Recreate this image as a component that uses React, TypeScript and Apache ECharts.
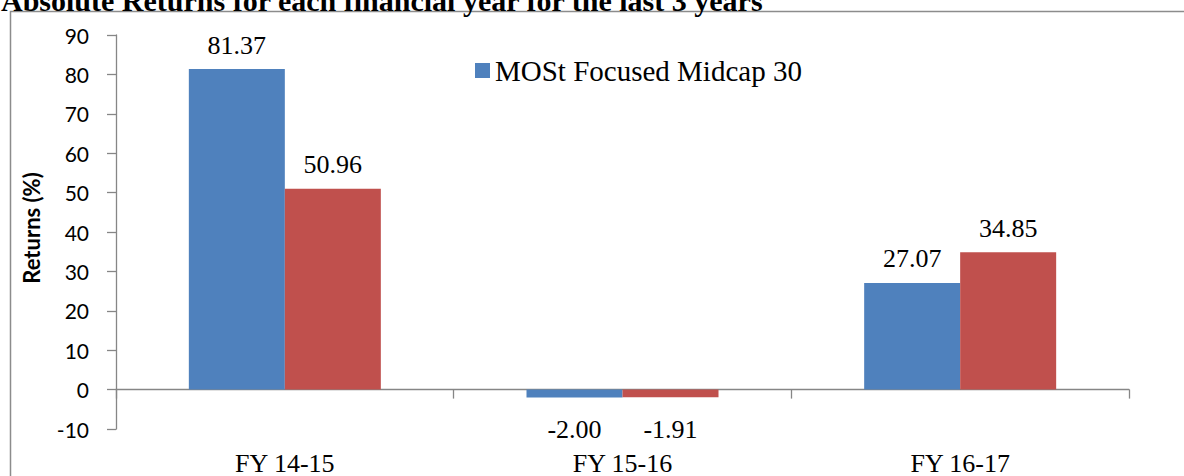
import React, { useEffect, useRef } from "react";
import * as echarts from "echarts";

const categories = ["FY 14-15", "FY 15-16", "FY 16-17"];
const fundName = "MOSt Focused Midcap 30";
const benchName = "Benchmark";
const fundValues = [81.37, -2.0, 27.07];
const benchValues = [50.96, -1.91, 34.85];
const yMin = -10;
const yMax = 90;
const yInterval = 10;
const titleText = "Absolute Returns for each financial year for the last 3 years";
const yAxisTitle = "Returns (%)";

const SERIF = "'Liberation Serif', 'Times New Roman', serif";
const SANS = "Lato, Carlito, Calibri, sans-serif";
const AXIS = "#868686";

function toData(values: number[]) {
  return values.map((v) =>
    v < 0
      ? { value: v, label: { position: "bottom", distance: 19 } }
      : { value: v }
  );
}

export default function App() {
  const ref = useRef<HTMLDivElement>(null);
  useEffect(() => {
    if (!ref.current) return;
    const chart = echarts.init(ref.current, undefined, { renderer: "svg" });
    const labelStyle = {
      show: true,
      position: "top",
      distance: 11,
      fontFamily: SERIF,
      fontSize: 26,
      color: "#000",
      formatter: (p: any) => Number(p.value).toFixed(2),
    };
    chart.setOption({
      animation: false,
      backgroundColor: "#fff",
      grid: {
        left: 116,
        right: 55,
        top: 35,
        bottom: 47,
        containLabel: false,
        outerBoundsMode: "none",
      },
      legend: {
        data: [fundName],
        left: 475,
        top: 56,
        padding: 0,
        icon: "rect",
        itemWidth: 15,
        itemHeight: 15,
        itemGap: 5,
        textStyle: { fontFamily: SERIF, fontSize: 29, color: "#000" },
      },
      xAxis: {
        type: "category",
        data: categories,
        boundaryGap: true,
        axisLine: { show: true, onZero: true, lineStyle: { color: AXIS, width: 1.3 } },
        axisTick: { show: true, length: 9, interval: 0, lineStyle: { color: AXIS, width: 1.3 } },
        axisLabel: {
          margin: 34,
          verticalAlign: "middle",
          fontFamily: SERIF,
          fontSize: 26,
          color: "#000",
        },
        splitLine: { show: false },
      },
      yAxis: {
        type: "value",
        min: yMin,
        max: yMax,
        interval: yInterval,
        axisLine: { show: true, lineStyle: { color: AXIS, width: 1.3 } },
        axisTick: { show: true, length: 9, lineStyle: { color: AXIS, width: 1.3 } },
        axisLabel: { margin: 27, fontFamily: SANS, fontSize: 21, color: "#000" },
        splitLine: { show: false },
      },
      series: [
        {
          name: fundName,
          type: "bar",
          data: toData(fundValues),
          barWidth: 96,
          barGap: "0%",
          itemStyle: { color: "#4F81BD" },
          label: labelStyle,
        },
        {
          name: benchName,
          type: "bar",
          data: toData(benchValues),
          barWidth: 96,
          barGap: "0%",
          itemStyle: { color: "#C0504D" },
          label: labelStyle,
        },
      ],
      graphic: [
        {
          type: "rect",
          shape: { x: 10.5, y: 11.5, width: 2000, height: 1000 },
          style: { fill: "none", stroke: "#8c8c8c", lineWidth: 1.5 },
          silent: true,
          z: 0,
        },
        {
          type: "text",
          x: 1,
          y: 15,
          style: {
            text: titleText,
            fontFamily: SERIF,
            fontWeight: "bold",
            fontSize: 30,
            fill: "#000",
            align: "left",
            verticalAlign: "bottom",
          },
        },
        {
          type: "text",
          x: 31,
          y: 228,
          rotation: Math.PI / 2,
          style: {
            text: yAxisTitle,
            fontFamily: SANS,
            fontWeight: "bold",
            fontSize: 22,
            fill: "#000",
            align: "center",
            verticalAlign: "middle",
          },
        },
      ],
    });
    return () => chart.dispose();
  }, []);
  return (
    <div
      ref={ref}
      style={{ position: "fixed", left: 0, top: 0, width: 1184, height: 476 }}
    />
  );
}
